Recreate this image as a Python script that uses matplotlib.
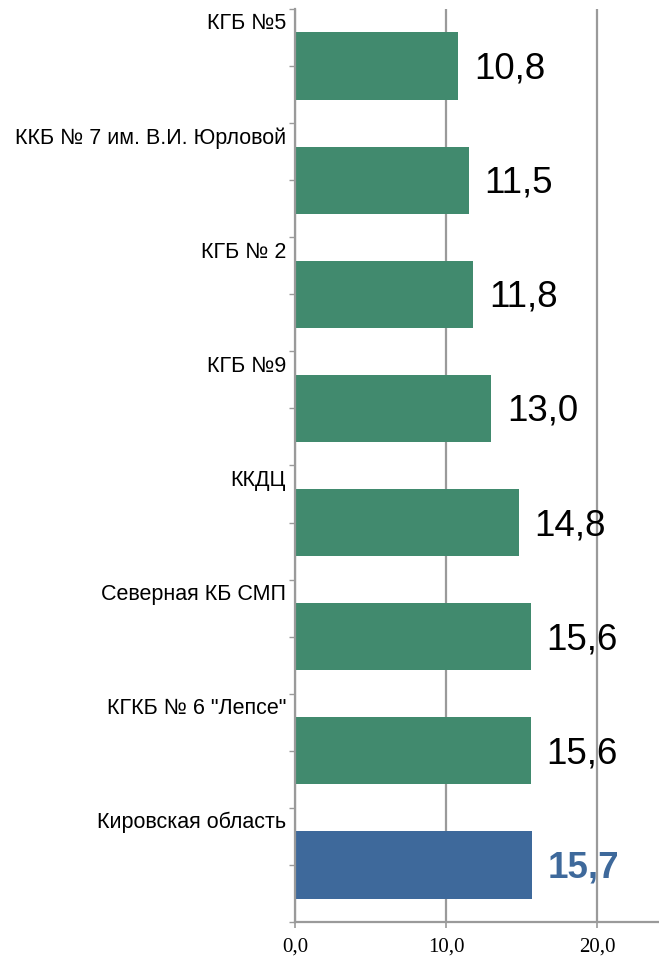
import numpy as np
import matplotlib
matplotlib.use("Agg")
import matplotlib.pyplot as plt
from matplotlib.ticker import FixedLocator, FuncFormatter

# data (top to bottom)
categories = [
    "КГБ №5",
    "ККБ № 7 им. В.И. Юрловой",
    "КГБ № 2",
    "КГБ №9",
    "ККДЦ",
    "Северная КБ СМП",
    'КГКБ № 6 "Лепсе"',
    "Кировская область",
]
values = [10.8, 11.5, 11.8, 13.0, 14.8, 15.6, 15.6, 15.7]
highlight = [False, False, False, False, False, False, False, True]
x_ticks = [0, 10, 20]

GREEN = "#418A6E"
BLUE = "#3E699B"
GRID = "#9A9A9A"

plt.rcParams["font.family"] = ["Liberation Sans", "DejaVu Sans"]

fig = plt.figure(figsize=(6.59, 9.59), dpi=100)
ax = fig.add_axes([0.4477, 0.0386, 0.5523, 0.952])

y = np.arange(len(categories))
colors = [BLUE if h else GREEN for h in highlight]
ax.barh(y, values, height=0.59, color=colors, zorder=2)

ax.set_xlim(0, 24.1)
ax.set_ylim(len(categories) - 0.5, -0.5)

# value labels, digits centred on the bar
for yi, v, h in zip(y, values, highlight):
    txt = f"{v:.1f}".replace(".", ",")
    ax.annotate(txt, (v, yi), xytext=(11.5, -9.0), textcoords="offset points",
                va="baseline", ha="left", fontsize=26.5,
                color=BLUE if h else "black",
                fontweight="bold" if h else "normal", zorder=3)

# category labels sit near the top of each band
for yi, name in zip(y, categories):
    ax.text(-0.6, yi - 0.37, name, ha="right", va="center", fontsize=15.5,
            color="black", clip_on=False)

# y ticks at band edges and centres, no labels
ax.yaxis.set_major_locator(FixedLocator(np.arange(-0.5, len(categories), 0.5)))
ax.set_yticklabels([])
ax.tick_params(axis="y", length=4.3, width=1, color=GRID)

ax.xaxis.set_major_locator(FixedLocator(x_ticks))
ax.xaxis.set_major_formatter(FuncFormatter(lambda v, p: f"{v:.1f}".replace(".", ",")))
ax.tick_params(axis="x", length=4, width=1.2, color=GRID, pad=7, labelsize=15)
for lab in ax.get_xticklabels():
    lab.set_fontfamily(["Liberation Serif", "DejaVu Serif"])

ax.grid(axis="x", color=GRID, linewidth=1.6, zorder=0)
ax.set_axisbelow(True)
for s in ["top", "right"]:
    ax.spines[s].set_visible(False)
for s in ["left", "bottom"]:
    ax.spines[s].set_color(GRID)
    ax.spines[s].set_linewidth(1.6)

fig.savefig("out.png", dpi=100)
